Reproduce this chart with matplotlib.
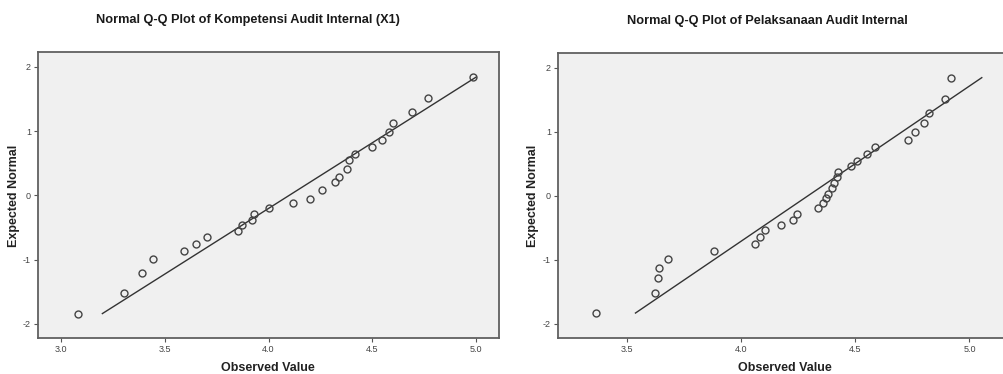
import matplotlib
matplotlib.use("Agg")
import matplotlib.pyplot as plt

plt.rcParams['font.family'] = ['Liberation Sans', 'DejaVu Sans']

# ---- data ----
title_left = "Normal Q-Q Plot of Kompetensi Audit Internal (X1)"
title_right = "Normal Q-Q Plot of Pelaksanaan Audit Internal"
xlabel = "Observed Value"
ylabel = "Expected Normal"

obs_left = [3.084, 3.304, 3.392, 3.442, 3.591, 3.652, 3.702, 3.851, 3.871, 3.922,
            3.930, 4.000, 4.120, 4.200, 4.260, 4.320, 4.340, 4.378, 4.390, 4.418,
            4.500, 4.548, 4.580, 4.598, 4.690, 4.769, 4.987]
exp_left = [-1.85, -1.52, -1.21, -0.99, -0.86, -0.75, -0.65, -0.55, -0.46, -0.38,
            -0.29, -0.20, -0.12, -0.05, 0.076, 0.20, 0.29, 0.41, 0.55, 0.65,
            0.75, 0.86, 0.99, 1.13, 1.29, 1.51, 1.84]
line_left_x = [3.20, 5.00]
line_left_y = [-1.84, 1.84]

obs_right = [3.366, 3.625, 3.637, 3.643, 3.682, 3.884, 4.060, 4.084, 4.106, 4.176,
             4.227, 4.244, 4.339, 4.361, 4.373, 4.380, 4.397, 4.408, 4.422, 4.427,
             4.480, 4.510, 4.554, 4.589, 4.733, 4.762, 4.803, 4.825, 4.895, 4.920]
exp_right = [-1.83, -1.51, -1.29, -1.12, -0.98, -0.86, -0.75, -0.64, -0.54, -0.46,
             -0.37, -0.28, -0.197, -0.109, -0.031, 0.036, 0.124, 0.202, 0.29, 0.373,
             0.47, 0.55, 0.65, 0.756, 0.87, 0.99, 1.13, 1.30, 1.51, 1.84]
line_right_x = [3.539, 5.054]
line_right_y = [-1.83, 1.845]

xticks_left = [3.0, 3.5, 4.0, 4.5, 5.0]
xticks_right = [3.5, 4.0, 4.5, 5.0]
yticks = [-2, -1, 0, 1, 2]

W, H = 1004, 374
fig = plt.figure(figsize=(W / 100, H / 100), dpi=100)
fig.patch.set_facecolor('white')


def px_axes(x0, y0, x1, y1):
    return fig.add_axes([x0 / W, 1 - y1 / H, (x1 - x0) / W, (y1 - y0) / H])


def style(ax, obs, exp, lx, ly, xticks, xlim):
    ax.set_facecolor('#f0f0f0')
    ax.plot(lx, ly, color='#333333', lw=1.0, zorder=2)
    ax.plot(obs, exp, linestyle='none', marker='o', markersize=5.0,
            markerfacecolor='none', markeredgecolor='#444444',
            markeredgewidth=1.0, zorder=3)
    ax.set_xlim(*xlim)
    ax.set_ylim(-2.22, 2.23)
    ax.set_xticks(xticks)
    ax.set_xticklabels([f"{t:.1f}" for t in xticks])
    ax.set_yticks(yticks)
    ax.set_yticklabels([str(t) for t in yticks])
    ax.tick_params(axis='both', direction='out', length=3, width=0.8,
                   color='#555555', labelsize=6.5, labelcolor='#444444', pad=2)
    ax.tick_params(top=False, right=False)
    for s in ax.spines.values():
        s.set_color('#606060')
        s.set_linewidth(1.3)


ax1 = px_axes(38, 52, 499, 338)
style(ax1, obs_left, exp_left, line_left_x, line_left_y, xticks_left, (2.89, 5.11))

ax2 = px_axes(558, 53, 1006, 338)
style(ax2, obs_right, exp_right, line_right_x, line_right_y, xticks_right, (3.20, 5.16))

tkw = dict(fontsize=9.2, fontweight='bold', color='#1a1a1a', ha='center', va='center')
fig.text(248 / W, 1 - 20 / H, title_left, **tkw)
fig.text(767 / W, 1 - 21 / H, title_right, **tkw)

lkw = dict(fontsize=9, fontweight='bold', color='#222222', ha='center', va='center')
fig.text(268 / W, 1 - 368 / H, xlabel, **lkw)
fig.text(785 / W, 1 - 368 / H, xlabel, **lkw)
fig.text(14 / W, 1 - 196 / H, ylabel, rotation=90, **lkw)
fig.text(533 / W, 1 - 196 / H, ylabel, rotation=90, **lkw)

fig.savefig('out.png', dpi=100, facecolor='white')
